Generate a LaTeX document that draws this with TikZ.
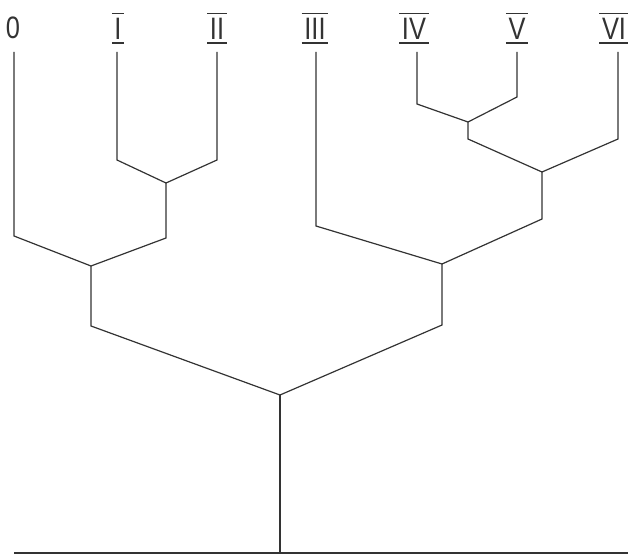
\documentclass[tikz,border=0pt]{standalone}
\usepackage{fontspec}
\setmainfont{Liberation Sans}[FakeStretch=0.82]
\begin{document}
\begin{tikzpicture}[x=1pt,y=-1pt,
  br/.style={draw=black!80, line width=1.2pt},
  bar/.style={draw=black!80, line width=1.4pt},
  lab/.style={font=\fontsize{31}{32}\selectfont, text=black!80, anchor=base,
    text height=23pt, text depth=0pt, inner xsep=2.5pt, inner ysep=3pt},
  rom/.style={lab, append after command={
    (\tikzlastnode.north west) edge[bar] (\tikzlastnode.north east)
    (\tikzlastnode.south west) edge[bar] (\tikzlastnode.south east)}}]
\useasboundingbox (0,0) rectangle (628,556);
% labels
\node[lab] (L0) at (13,39) {0};
\node[rom] (L1) at (118,40) {I};
\node[rom] (L2) at (217,40) {II};
\node[rom] (L3) at (315,40) {III};
\node[rom] (L4) at (414,40) {IV};
\node[rom] (L5) at (517,40) {V};
\node[rom] (L6) at (614,40) {VI};
% coordinates
\coordinate (t0) at (14,52);  \coordinate (b0) at (14,236);
\coordinate (t1) at (117,52); \coordinate (b1) at (117,160);
\coordinate (t2) at (217,52); \coordinate (b2) at (217,160);
\coordinate (j12) at (166,183); \coordinate (j12b) at (166,238);
\coordinate (j012) at (91,266); \coordinate (j012b) at (91,326);
\coordinate (t3) at (316,52); \coordinate (b3) at (316,226);
\coordinate (t4) at (417,52); \coordinate (b4) at (417,104);
\coordinate (t5) at (517,52); \coordinate (b5) at (517,97);
\coordinate (j45) at (468,122); \coordinate (j45b) at (468,139);
\coordinate (t6) at (618,52); \coordinate (b6) at (618,139);
\coordinate (j456) at (542,172); \coordinate (j456b) at (542,219);
\coordinate (j3456) at (442,264); \coordinate (j3456b) at (442,325);
\coordinate (root) at (280,395); \coordinate (rootb) at (280,552);
\coordinate (gl) at (14,553); \coordinate (gr) at (628,553);
% branches
\draw[br] (t0) -- (b0) -- (j012);
\draw[br] (t1) -- (b1) -- (j12);
\draw[br] (t2) -- (b2) -- (j12);
\draw[br] (j12) -- (j12b) -- (j012);
\draw[br] (j012) -- (j012b) -- (root);
\draw[br] (t4) -- (b4) -- (j45);
\draw[br] (t5) -- (b5) -- (j45);
\draw[br] (j45) -- (j45b) -- (j456);
\draw[br] (t6) -- (b6) -- (j456);
\draw[br] (j456) -- (j456b) -- (j3456);
\draw[br] (t3) -- (b3) -- (j3456);
\draw[br] (j3456) -- (j3456b) -- (root);
\draw[br] (root) -- (rootb);
\draw[br, line width=1.5pt] (gl) -- (gr);
\end{tikzpicture}
\end{document}
